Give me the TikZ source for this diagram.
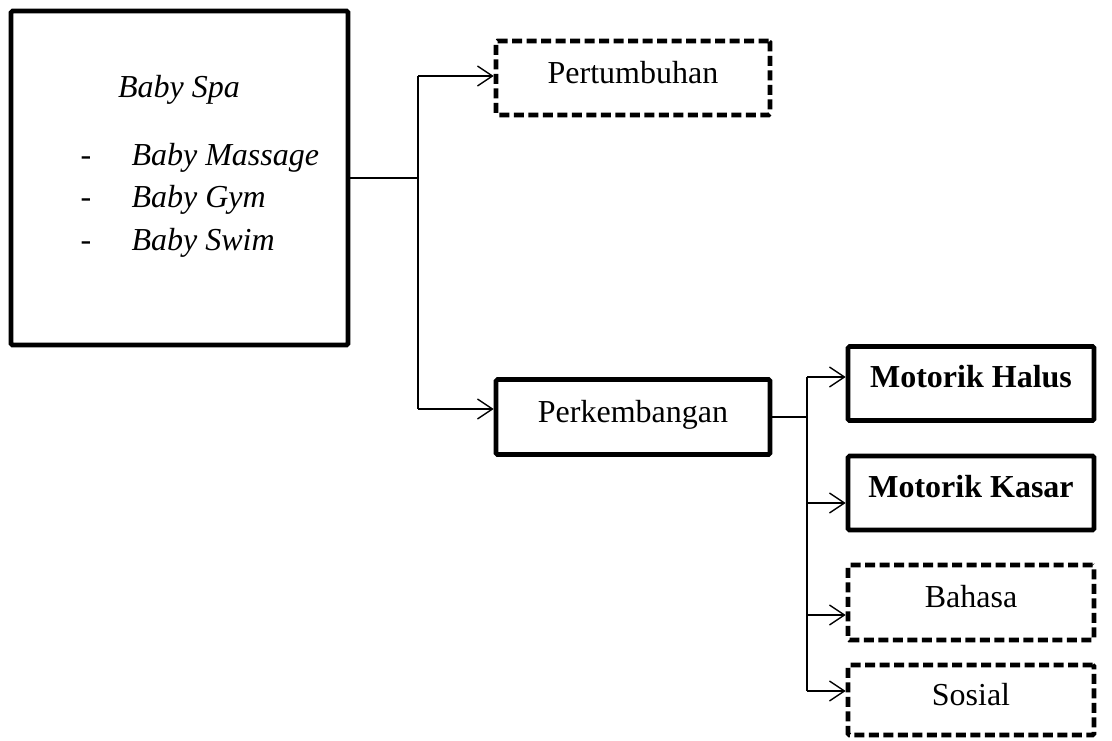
\documentclass[tikz,border=0pt]{standalone}
\usepackage{fontspec}
\setmainfont{Liberation Serif}
\usetikzlibrary{arrows.meta}

\begin{document}
\begin{tikzpicture}[
  x=1pt, y=-1pt,
  >={Straight Barb[length=15pt,width=20pt]},
  every node/.style={font=\fontsize{32}{38}\selectfont},
  box/.style={rectangle, draw, line width=4.6pt, rounded corners=1.5pt, minimum width=246pt, minimum height=74pt, text height=22pt, text depth=12pt, inner sep=0pt},
  dashbox/.style={box, dash pattern=on 10pt off 4.5pt},
  link/.style={line width=1.4pt}
]

\useasboundingbox (0,0) rectangle (1112,740);

% Main box
\node[box, minimum width=337pt, minimum height=334pt] (spa) at (179.5,178) {};
\node[anchor=base, font=\fontsize{32}{38}\selectfont\itshape] (title) at (179,97) {Baby Spa};
\node[anchor=base] (d1) at (86,165) {-};
\node[anchor=base] (d2) at (86,207) {-};
\node[anchor=base] (d3) at (86,250) {-};
\node[anchor=base west, font=\fontsize{32}{38}\selectfont\itshape] (massage) at (128,165) {Baby Massage};
\node[anchor=base west, font=\fontsize{32}{38}\selectfont\itshape] (gym) at (128,207) {Baby Gym};
\node[anchor=base west, font=\fontsize{32}{38}\selectfont\itshape] (swim) at (128,250) {Baby Swim};

% Second level
\node[dashbox, minimum width=274pt] (pert) at (633,78) {Pertumbuhan};
\node[box, minimum width=274pt, minimum height=75pt] (perk) at (633,417) {Perkembangan};

% Third level
\node[box, text depth=14pt] (halus) at (971,383.5) {\textbf{Motorik Halus}};
\node[box, text depth=14pt] (kasar) at (971,493) {\textbf{Motorik Kasar}};
\node[dashbox, minimum height=75pt] (bahasa) at (971,602.5) {Bahasa};
\node[dashbox, minimum height=70pt] (sosial) at (971,700) {Sosial};

% Trunks
\coordinate (j1top) at (418,76);
\coordinate (j1bot) at (418,409);
\coordinate (j2top) at (807,377);
\coordinate (j2b) at (807,503);
\coordinate (j2c) at (807,615);
\coordinate (j2bot) at (807,691);

% Connectors
\draw[link] (spa.east) -- (spa.east -| j1top);
\draw[link] (j1top) -- (j1bot);
\draw[link,->] (j1top) -- (j1top -| pert.west);
\draw[link,->] (j1bot) -- (j1bot -| perk.west);

\draw[link] (perk.east) -- (perk.east -| j2top);
\draw[link] (j2top) -- (j2bot);
\draw[link,->] (j2top) -- (j2top -| halus.west);
\draw[link,->] (j2b) -- (j2b -| kasar.west);
\draw[link,->] (j2c) -- (j2c -| bahasa.west);
\draw[link,->] (j2bot) -- (j2bot -| sosial.west);

\end{tikzpicture}
\end{document}
